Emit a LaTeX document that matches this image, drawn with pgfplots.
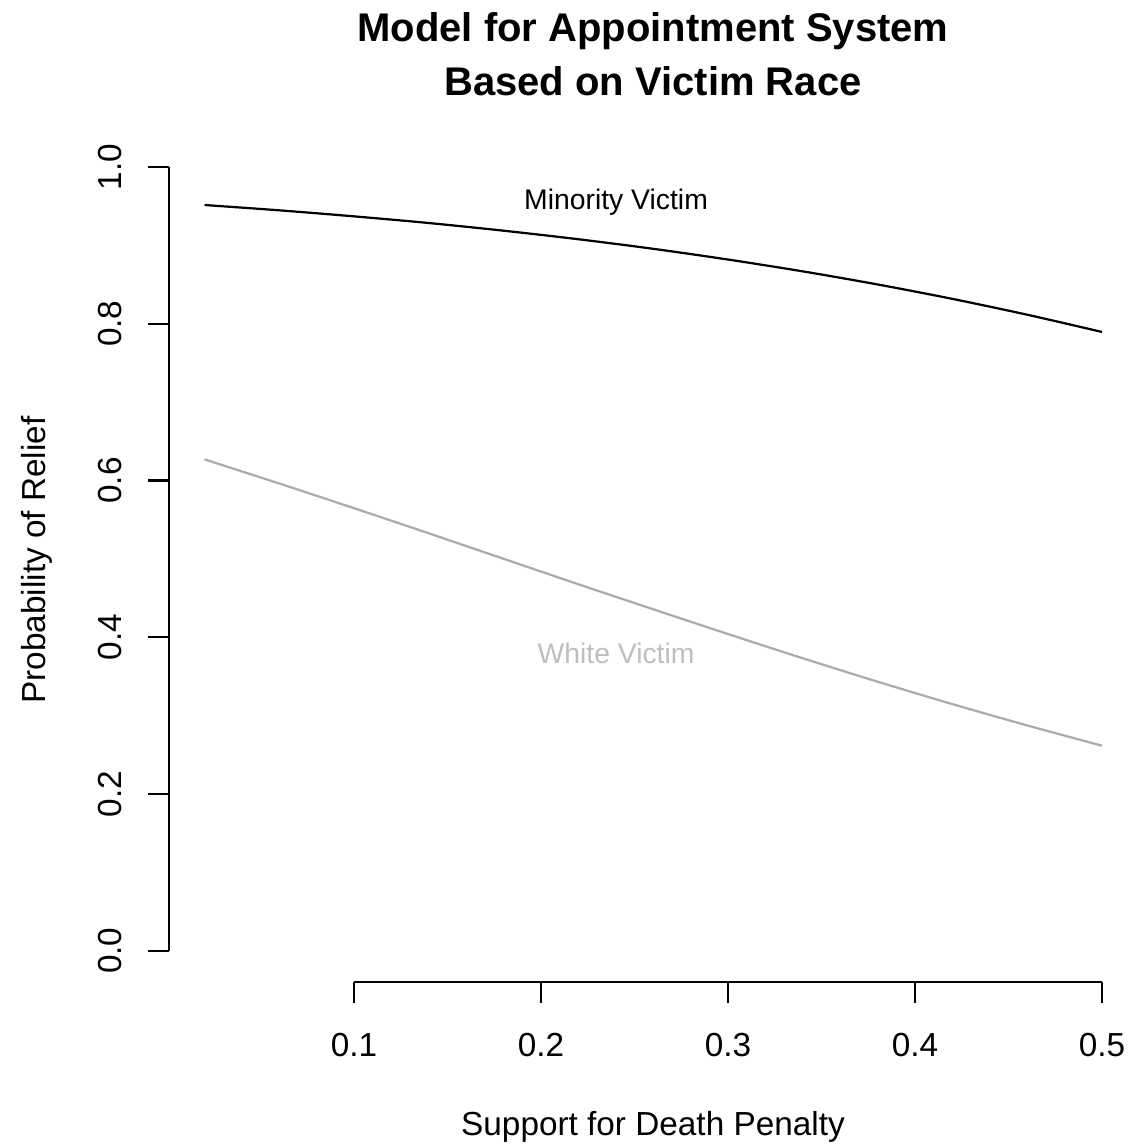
\documentclass[border=0pt]{standalone}
\usepackage{pgfplots}
\pgfplotsset{compat=1.18}
\usepackage{fontspec}
\setmainfont{Liberation Sans}
\definecolor{rgray}{HTML}{BEBEBE}
\definecolor{lgray}{HTML}{ABABAB}
\begin{document}
\begin{tikzpicture}
\useasboundingbox (0pt,0pt) rectangle (406.44pt,413.28pt);
\begin{axis}[
  at={(60.84pt,59.76pt)}, anchor=south west,
  scale only axis, width=335.88pt, height=293.4pt,
  xmin=0.001, xmax=0.5, ymin=-0.04, ymax=1,
  axis x line*=bottom, axis y line*=left,
  axis line style={draw=none},
  tick align=outside,
  major tick length=7.56pt,
  xtick={0.1,0.2,0.3,0.4,0.5},
  ytick={0,0.2,0.4,0.6,0.8,1},
  xticklabels={0.1,0.2,0.3,0.4,0.5},
  yticklabels={0.0,0.2,0.4,0.6,0.8,1.0},
  tick style={black, line width=0.8pt},
  minor tick num=0,
  ticklabel style={font=\fontsize{12}{14}\selectfont},
  xticklabel style={anchor=base, yshift=-19.44pt},
  yticklabel style={rotate=90, anchor=base, yshift=9.36pt},
  clip=false,
]
\draw[line width=0.8pt] (axis cs:0.1,-0.04) -- (axis cs:0.5,-0.04);
\draw[line width=0.8pt] (axis cs:0.001,0) -- (axis cs:0.001,1);
\addplot[black, line width=0.8pt, smooth, no marks] coordinates {
(0.02,0.9515) (0.06,0.9447) (0.10,0.9370) (0.14,0.9285) (0.18,0.9187)
(0.22,0.9078) (0.26,0.8956) (0.30,0.8819) (0.34,0.8668) (0.38,0.8501)
(0.42,0.8317) (0.46,0.8115) (0.50,0.7895)};
\addplot[lgray, line width=0.8pt, smooth, no marks] coordinates {
(0.02,0.6269) (0.06,0.5961) (0.10,0.5646) (0.14,0.5325) (0.18,0.5000)
(0.22,0.4675) (0.26,0.4356) (0.30,0.4040) (0.34,0.3731) (0.38,0.3432)
(0.42,0.3146) (0.46,0.2874) (0.50,0.2615)};
\node[anchor=base, font=\fontsize{10.2}{12}\selectfont] at (axis cs:0.2401,0.9464) {Minority Victim};
\node[anchor=base, text=rgray, font=\fontsize{10.2}{12}\selectfont] at (axis cs:0.2401,0.367) {White Victim};
\end{axis}
\node[anchor=base, font=\bfseries\fontsize{14.4}{17}\selectfont] at (235.08pt,398.16pt) {Model for Appointment System};
\node[anchor=base, font=\bfseries\fontsize{14.4}{17}\selectfont] at (235.08pt,378.72pt) {Based on Victim Race};
\node[anchor=base, font=\fontsize{12}{14}\selectfont] at (235.08pt,4.32pt) {Support for Death Penalty};
\node[anchor=base, rotate=90, font=\fontsize{12}{14}\selectfont] at (16.2pt,211.68pt) {Probability of Relief};
\end{tikzpicture}
\end{document}
